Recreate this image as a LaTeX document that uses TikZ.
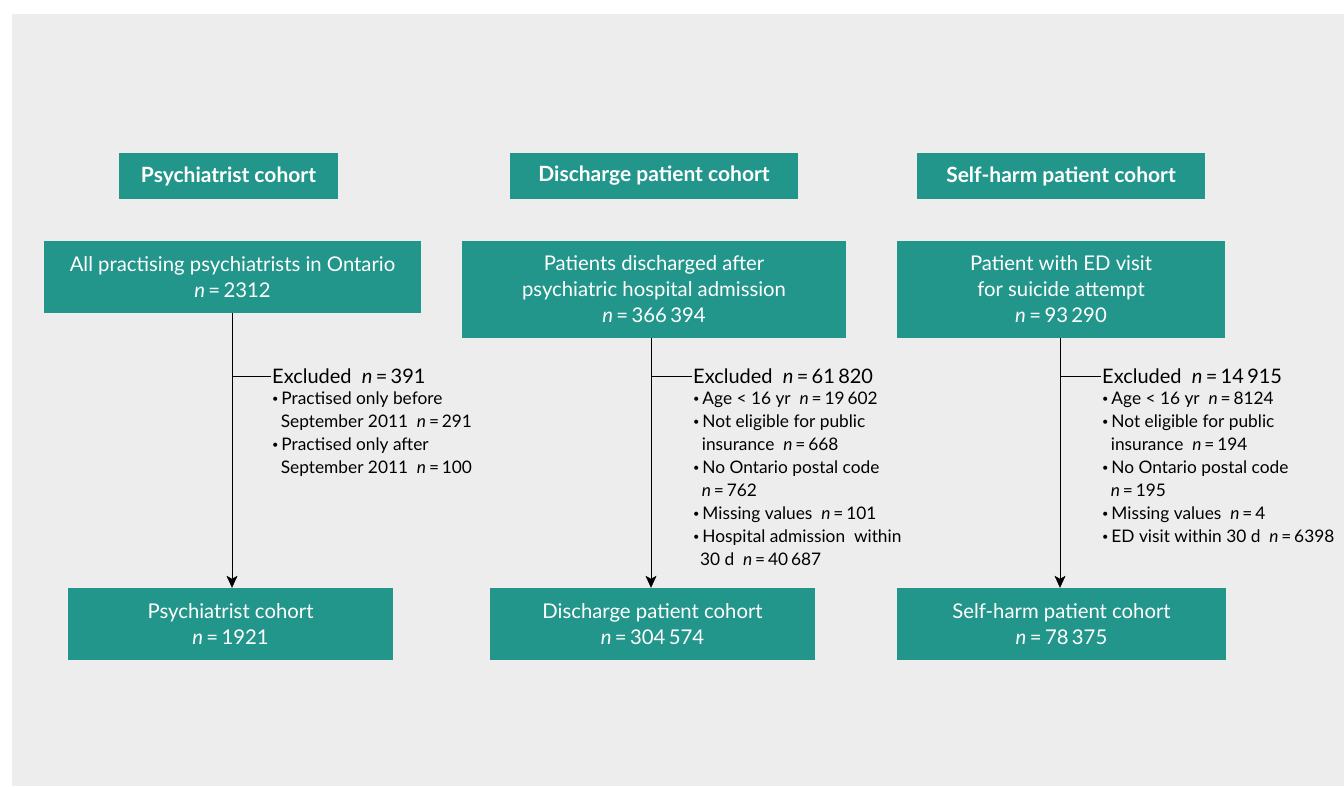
\documentclass[tikz,border=0pt]{standalone}
\usepackage{fontspec}
\setmainfont{Lato}
\usetikzlibrary{positioning,arrows.meta}
\usepackage{xcolor}
\definecolor{cohortteal}{HTML}{23968C}
\definecolor{panelgray}{HTML}{EDEDED}
\newcommand{\nn}{\textit{n}\,=\,}
\newcommand{\bul}{\raisebox{0.12em}{\fontsize{11}{11}\selectfont\textbullet}\,}
\newcommand{\hang}{\hspace*{0.5em}}

\begin{document}
\begin{tikzpicture}[x=1pt,y=-1pt,
  header/.style={fill=cohortteal, text=white, font=\fontsize{21}{24}\selectfont\bfseries, minimum height=46, inner sep=0},
  stagebox/.style={fill=cohortteal, text=white, font=\fontsize{20.3}{26}\selectfont, align=center, inner sep=0},
  exclhead/.style={font=\fontsize{20}{23}\selectfont, inner sep=0, anchor=west},
  excllist/.style={font=\fontsize{17.3}{23}\selectfont, align=left, inner sep=0, anchor=north west},
  flow/.style={semithick, -{Stealth[length=12pt,width=11pt,inset=3pt]}}]

\useasboundingbox (0,0) rectangle (1344,787);
\fill[panelgray] (12,14) rectangle (1344,786);

% cohort headings
\node[header, minimum width=219] (hdA) at (228.5,176) {Psychiatrist cohort};
\node[header, minimum width=288] (hdB) at (654,176) {Discharge patient cohort};
\node[header, minimum width=288] (hdC) at (1061,176) {Self-harm patient cohort};

% starting populations
\node[stagebox, minimum width=377, minimum height=72] (topA) at (232.5,277)
  {All practising psychiatrists in Ontario\\ \nn 2312};
\node[stagebox, minimum width=384, minimum height=97] (topB) at (654,289.5)
  {Patients discharged after\\ psychiatric hospital admission\\ \nn 366\,394};
\node[stagebox, minimum width=328, minimum height=97] (topC) at (1061,289.5)
  {Patient with ED visit\\ for suicide attempt\\ \nn 93\,290};

% final cohorts
\node[stagebox, minimum width=325, minimum height=72] (botA) at (230.5,624)
  {Psychiatrist cohort\\ \nn 1921};
\node[stagebox, minimum width=325, minimum height=72] (botB) at (652.5,624)
  {Discharge patient cohort\\ \nn 304\,574};
\node[stagebox, minimum width=329, minimum height=72] (botC) at (1061.5,624)
  {Self-harm patient cohort\\ \nn 78\,375};

% exclusions
\node[exclhead] (exA) at (272,376) {Excluded\ \ \nn 391};
\node[excllist] (lsA) at (272,392)
  {\bul Practised only before\\ \hang September 2011\ \ \nn 291\\
   \bul Practised only after\\ \hang September 2011\ \ \nn 100};

\node[exclhead] (exB) at (693,376) {Excluded\ \ \nn 61\,820};
\node[excllist] (lsB) at (693,392)
  {\bul Age < 16 yr\ \ \nn 19\,602\\
   \bul Not eligible for public\\ \hang insurance\ \ \nn 668\\
   \bul No Ontario postal code\\ \hang \nn 762\\
   \bul Missing values\ \ \nn 101\\
   \bul Hospital admission\ \ within\\ \hspace*{0.4em}30 d\ \ \nn 40\,687};

\node[exclhead] (exC) at (1102,376) {Excluded\ \ \nn 14\,915};
\node[excllist] (lsC) at (1102,392)
  {\bul Age < 16 yr\ \ \nn 8124\\
   \bul Not eligible for public\\ \hang insurance\ \ \nn 194\\
   \bul No Ontario postal code\\ \hang \nn 195\\
   \bul Missing values\ \ \nn 4\\
   \bul ED visit within 30 d\ \ \nn 6398};

% trunk positions
\coordinate (trA) at (232,0);
\coordinate (trB) at (651,0);
\coordinate (trC) at (1060,0);

% flow
\draw[flow] (topA.south -| trA) -- (botA.north -| trA);
\draw[flow] (topB.south -| trB) -- (botB.north -| trB);
\draw[flow] (topC.south -| trC) -- (botC.north -| trC);
\draw[semithick] (exA.west -| trA) -- ([xshift=-1pt]exA.west);
\draw[semithick] (exB.west -| trB) -- ([xshift=-1pt]exB.west);
\draw[semithick] (exC.west -| trC) -- ([xshift=-1pt]exC.west);

\end{tikzpicture}
\end{document}
